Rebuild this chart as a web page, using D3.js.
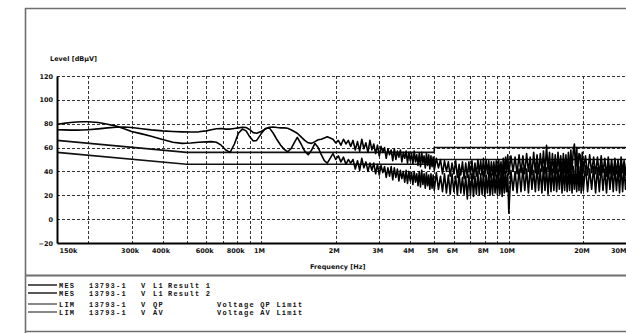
<!DOCTYPE html>
<html>
<head>
<meta charset="utf-8">
<script src="https://cdn.jsdelivr.net/npm/d3@7"></script>
<style>
  html, body { margin: 0; padding: 0; background: #fff; }
  svg { display: block; }
</style>
</head>
<body>
<svg id="chart" width="626" height="333"></svg>
<script>
// Conducted emission scan, L1 – frequency in MHz, level in dBµV
const sweepMHz = [
  0.15,0.16,0.17,0.18,0.19,0.20,0.22,0.24,0.26,0.28,
  0.30,0.33,0.36,0.40,0.44,0.48,0.52,0.56,0.60,0.63,
  0.66,0.69,0.72,0.75,0.78,0.81,0.84,0.87,0.90,0.93,
  0.96,1.00,1.04,1.08,1.12,1.16,1.20,1.24,1.28,1.32,
  1.36,1.40,1.45,1.50,1.55,1.60,1.65,1.70,1.75,1.80,
  1.85,1.90,1.95,2.00,2.05,2.10,2.15,2.20,2.25,2.30,
  2.35,2.40,2.45,2.50,2.55,2.60,2.65,2.70,2.75,2.80,
  2.85,2.90,2.95,3.00,3.05,3.10,3.15,3.20,3.25,3.30,
  3.35,3.40,3.45,3.50,3.55,3.60,3.65,3.70,3.75,3.80,
  3.85,3.90,3.95,4.00,4.05,4.10,4.15,4.20,4.25,4.30,
  4.35,4.40,4.45,4.50,4.55,4.60,4.65,4.70,4.75,4.80,
  4.85,4.90,4.95,5.0,5.1,5.2,5.3,5.4,5.5,5.6,
  5.7,5.8,5.9,6.0,6.1,6.2,6.3,6.4,6.5,6.6,
  6.7,6.8,6.9,7.0,7.1,7.2,7.3,7.4,7.5,7.6,
  7.7,7.8,7.9,8.0,8.1,8.2,8.3,8.4,8.5,8.6,
  8.7,8.8,8.9,9.0,9.1,9.2,9.3,9.4,9.5,9.6,
  9.7,9.8,9.9,10.0,10.2,10.4,10.6,10.8,11.0,11.2,
  11.4,11.6,11.8,12.0,12.2,12.4,12.6,12.8,13.0,13.2,
  13.4,13.6,13.8,14.0,14.2,14.4,14.6,14.8,15.0,15.2,
  15.4,15.6,15.8,16.0,16.2,16.4,16.6,16.8,17.0,17.2,
  17.4,17.6,17.8,18.0,18.2,18.4,18.6,18.8,19.0,19.2,
  19.4,19.6,19.8,20.0,20.4,20.8,21.2,21.6,22.0,22.4,
  22.8,23.2,23.6,24.0,24.4,24.8,25.2,25.6,26.0,26.4,
  26.8,27.2,27.6,28.0,28.4,28.8,29.2,29.6,30.0
];

const result1 = [
  79.5,80.3,81,81.5,81.7,81.7,81,79.5,78,75.8,
  73.5,71.5,69.5,66.8,64.5,63.5,63.8,64.5,64.8,65,
  64.5,62,58,56,63,72,75.5,74,69,65.5,
  66,71.5,76,76.5,72,66.5,62,58.5,56.5,59,
  64,68.5,63,57,54,58,63.5,60,54,49,
  47,51,55,50,53,48,52,46,50,47,
  50,42,49,41,51,43,48,40,47,41,
  47,38,46,37,45,39,44,35,43,36,
  44,33,43,35,42,32,41,34,40,31,
  41,30,40,32,39,29,40,31,38,28,
  40,27,41,29,38,26,39,28,37,25,
  38,26,37,24,39,25,36,23,38,22,
  37,21,38,23,36,20,39,22,35,21,
  36,17,37,20,38,19,36,21,39,20,
  38,21,40,19,37,22,39,20,38,21,
  39,22,37,20,40,21,38,19,41,22,
  40,23,38,5,41,24,40,22,42,23,
  43,24,42,22,44,25,41,23,45,24,
  42,22,44,24,43,21,45,23,42,24,
  44,23,42,25,45,22,43,24,44,23,
  43,24,45,22,44,25,42,23,46,24,
  44,22,43,24,45,23,42,25,44,22,
  43,23,45,24,42,22,44,25,43,23,
  44,24,42,22,45,23,43,25,41
];

const result2 = [
  75,74.8,74.6,74.6,74.7,75,75.7,76.5,77,77.2,
  76.8,75.8,74.8,74,73.5,73.2,73,73.2,74,75,
  75.8,76,75.5,75.5,76,76.5,77,76.8,75,72.5,
  72,73.5,75.5,77,77.2,76.8,76.5,76.5,76.2,75,
  73.5,72,69,66,64,63.5,65,66.5,67,68,
  69,68,67,64,66,62,67,63,66,61,
  66,58,65,57,67,59,64,56,66,58,
  63,55,62,53,61,56,60,51,59,54,
  58,49,59,50,57,52,58,48,56,51,
  57,47,56,49,55,46,57,48,54,45,
  55,44,56,47,53,43,55,45,54,42,
  53,44,52,41,51,43,50,38,49,40,
  48,36,47,38,49,35,46,37,48,34,
  47,35,48,37,49,34,47,36,50,38,
  49,37,51,36,50,38,49,35,48,37,
  48,36,49,35,50,37,48,34,51,38,
  52,39,54,37,53,40,52,38,54,39,
  53,38,55,40,52,37,56,39,54,38,
  55,40,57,38,62,41,56,37,55,39,
  54,38,56,40,53,37,55,39,54,38,
  56,39,58,41,57,63,40,60,38,55,
  54,38,56,40,53,37,54,39,52,38,
  52,37,53,39,51,36,52,38,50,37,
  51,38,50,36,52,39,49,37,50
];

// Limit lines (quasi-peak and average)
const limitMHz = [0.15, 0.5, 5, 5, 30];
const qpLimit  = [66, 56, 56, 60, 60];
const avLimit  = [56, 46, 46, 50, 50];

// Axis ticks
const levelTicks = [-20, 0, 20, 40, 60, 80, 100, 120];
const gridMHz = [0.2,0.3,0.4,0.5,0.6,0.7,0.8,0.9,1,2,3,4,5,6,7,8,9,10,20];
const freqTicks = [0.15,0.3,0.4,0.6,0.8,1,2,3,4,5,6,8,10,20,30];
const freqLabels = ["150k","300k","400k","600k","800k","1M","2M","3M","4M","5M","6M","8M","10M","20M","30M"];

const legendRows = [
  {tag: "MES", id: "13793-1", ph: "V", det: "L1", name: "Result 1", note: ""},
  {tag: "MES", id: "13793-1", ph: "V", det: "L1", name: "Result 2", note: ""},
  {tag: "LIM", id: "13793-1", ph: "V", det: "QP", name: "", note: "Voltage QP Limit"},
  {tag: "LIM", id: "13793-1", ph: "V", det: "AV", name: "", note: "Voltage AV Limit"}
];

const svg = d3.select("#chart");
const W = 626, H = 333;
const plot = {left: 57, right: 627, top: 76, bottom: 243};

const x = d3.scaleLog().domain([0.15, 30]).range([plot.left, plot.right]);
const y = d3.scaleLinear().domain([-20, 120]).range([plot.bottom, plot.top]);

svg.append("rect").attr("width", W).attr("height", H).attr("fill", "#fff");

// Page frame
const frame = svg.append("g").attr("stroke", "#6f6f6f").attr("fill", "none");
frame.append("line").attr("x1", 25).attr("x2", W).attr("y1", 8.5).attr("y2", 8.5).attr("stroke-width", 1.6);
frame.append("line").attr("x1", 25.5).attr("x2", 25.5).attr("y1", 8).attr("y2", H).attr("stroke-width", 1.6);
frame.append("line").attr("x1", 25).attr("x2", W).attr("y1", 275.5).attr("y2", 275.5).attr("stroke-width", 1.8);
frame.append("line").attr("x1", 25).attr("x2", W).attr("y1", 331.5).attr("y2", 331.5).attr("stroke-width", 1.4);

const clip = svg.append("defs").append("clipPath").attr("id", "plotclip");
clip.append("rect").attr("x", plot.left).attr("y", plot.top - 2).attr("width", W - plot.left).attr("height", plot.bottom - plot.top + 4);

// Dashed grid
const grid = svg.append("g").attr("stroke", "#333").attr("stroke-width", 1).attr("stroke-dasharray", "3,2");
grid.selectAll("line.h").data(levelTicks.filter(v => v > -20)).join("line")
  .attr("class", "h")
  .attr("x1", plot.left).attr("x2", W)
  .attr("y1", d => Math.round(y(d)) + 0.5).attr("y2", d => Math.round(y(d)) + 0.5);
grid.selectAll("line.v").data(gridMHz).join("line")
  .attr("class", "v")
  .attr("y1", plot.top).attr("y2", plot.bottom)
  .attr("x1", d => Math.round(x(d)) + 0.5).attr("x2", d => Math.round(x(d)) + 0.5);

const traces = svg.append("g").attr("clip-path", "url(#plotclip)");

const limitLine = d3.line().x(d => x(d[0])).y(d => y(d[1]));
traces.append("path")
  .datum(limitMHz.map((f, i) => [f, qpLimit[i]]))
  .attr("d", limitLine).attr("fill", "none").attr("stroke", "#111").attr("stroke-width", 1.6);
traces.append("path")
  .datum(limitMHz.map((f, i) => [f, avLimit[i]]))
  .attr("d", limitLine).attr("fill", "none").attr("stroke", "#111").attr("stroke-width", 1.6);

const scanLine = d3.line().x((d, i) => x(sweepMHz[i])).y(d => y(d));
[result2, result1].forEach(series => {
  traces.append("path")
    .datum(series)
    .attr("d", scanLine)
    .attr("fill", "none").attr("stroke", "#000").attr("stroke-width", 1.6)
    .attr("stroke-linejoin", "round");
});

// Axes
const axisFont = "DejaVu Sans, sans-serif";
const yAxis = svg.append("g")
  .attr("transform", `translate(${plot.left},0)`)
  .call(d3.axisLeft(y).tickValues(levelTicks).tickSize(0).tickPadding(4));
yAxis.select(".domain").attr("stroke", "#000").attr("stroke-width", 2);
yAxis.selectAll("text").attr("font-family", axisFont).attr("font-size", 6.5).attr("font-weight", "bold").attr("fill", "#111");

const xAxis = svg.append("g")
  .attr("transform", `translate(0,${plot.bottom})`)
  .call(d3.axisBottom(x).tickValues(freqTicks).tickFormat((d, i) => freqLabels[i]).tickSize(0).tickPadding(5));
xAxis.select(".domain").attr("stroke", "#000").attr("stroke-width", 2);
xAxis.selectAll("text")
  .attr("font-family", axisFont).attr("font-size", 6.5).attr("font-weight", "bold").attr("fill", "#111")
  .attr("text-anchor", (d, i) => i === 0 ? "start" : (i === freqTicks.length - 1 ? "end" : "middle"))
  .attr("dx", (d, i) => i === 0 ? 2 : (i === freqTicks.length - 1 ? -1 : -2));

svg.append("text").attr("x", 50).attr("y", 61)
  .attr("font-family", axisFont).attr("font-size", 6.5).attr("font-weight", "bold").attr("fill", "#111")
  .text("Level [dBµV]");
svg.append("text").attr("x", 310).attr("y", 269)
  .attr("font-family", axisFont).attr("font-size", 6.5).attr("font-weight", "bold").attr("fill", "#111")
  .text("Frequency [Hz]");

// Legend
const legY = [285, 293, 304, 312];
const mono = "Liberation Mono, DejaVu Sans Mono, monospace";
const leg = svg.append("g")
  .attr("font-family", mono).attr("font-size", 7).attr("font-weight", "bold")
  .attr("letter-spacing", 1.2).attr("fill", "#111");
legendRows.forEach((r, i) => {
  const yy = legY[i];
  leg.append("line").attr("x1", 28).attr("x2", 57).attr("y1", yy).attr("y2", yy)
    .attr("stroke", i < 2 ? "#111" : "#555").attr("stroke-width", 1.4);
  const base = yy + 2.5;
  leg.append("text").attr("x", 59).attr("y", base).text(r.tag);
  leg.append("text").attr("x", 89).attr("y", base).text(r.id);
  leg.append("text").attr("x", 141).attr("y", base).text(r.ph);
  leg.append("text").attr("x", 153).attr("y", base).text(r.det);
  if (r.name) leg.append("text").attr("x", 168).attr("y", base).text(r.name);
  if (r.note) leg.append("text").attr("x", 217).attr("y", base).text(r.note);
});
</script>
</body>
</html>
